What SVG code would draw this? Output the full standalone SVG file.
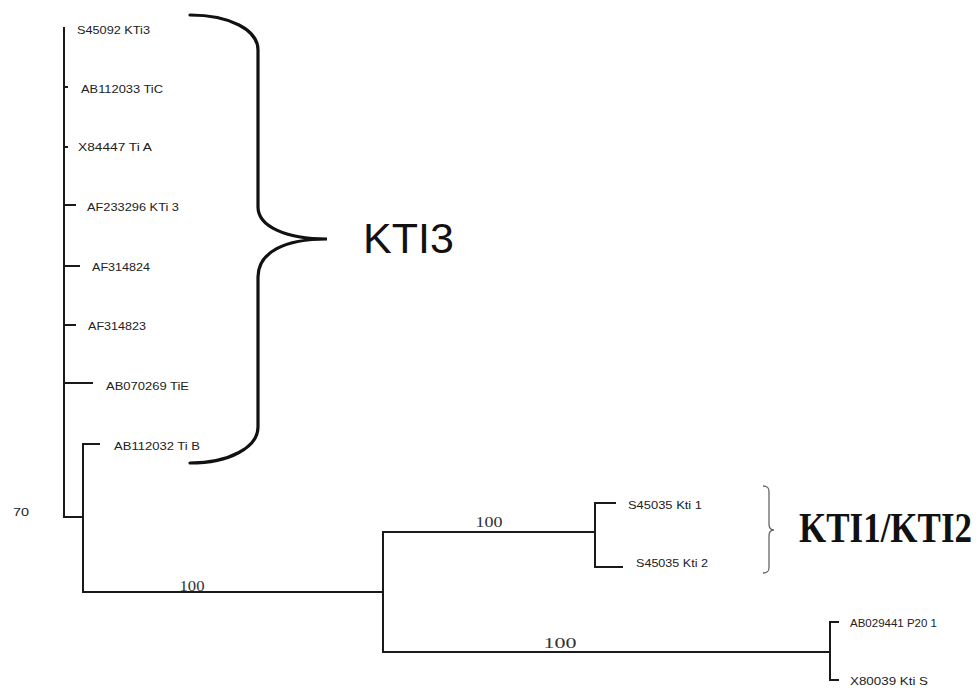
<svg xmlns="http://www.w3.org/2000/svg" width="979" height="690" viewBox="0 0 979 690">
<style>
.br{fill:none;stroke:#1a1a1a;stroke-width:2;stroke-linecap:square}
.lbl{font-family:"Liberation Sans",Arial,sans-serif;font-size:11px;fill:#222}
.bs{font-family:"Liberation Serif","Times New Roman",serif;font-size:14px;fill:#333}
.brace{fill:none;stroke:#111;stroke-width:3.2;stroke-linecap:round}
.brace2{fill:none;stroke:#666;stroke-width:1.3}
</style>
<rect width="979" height="690" fill="#fff"/>
<g id="connectors">
<path class="br" d="M64,28 V517 H83 M64,87 H67 M64,147 H67 M64,205 H75 M64,266 H79 M64,325 H75 M64,383 H92"/>
<path class="br" d="M99,444 H83 V592 H383 M383,532 V652"/>
<path class="br" d="M383,532 H595 M615,503 H595 V567 H622"/>
<path class="br" d="M383,652 H830 M838,622 H830 V680 H838"/>
</g>
<g id="bootstrap">
<text class="bs" x="192" y="591" text-anchor="middle" textLength="25" lengthAdjust="spacingAndGlyphs">100</text>
<text class="bs" x="489" y="527" text-anchor="middle" textLength="27" lengthAdjust="spacingAndGlyphs">100</text>
<text class="bs" x="560" y="648" text-anchor="middle" textLength="33" lengthAdjust="spacingAndGlyphs">100</text>
<text class="lbl" x="13" y="516" textLength="16" lengthAdjust="spacingAndGlyphs" style="font-size:11.5px">70</text>
</g>
<g id="n1"><text class="lbl" x="77" y="34" textLength="73" lengthAdjust="spacingAndGlyphs">S45092 KTi3</text></g>
<g id="n2"><text class="lbl" x="81" y="93" textLength="82" lengthAdjust="spacingAndGlyphs">AB112033 TiC</text></g>
<g id="n3"><text class="lbl" x="78" y="151" textLength="74" lengthAdjust="spacingAndGlyphs">X84447 Ti A</text></g>
<g id="n4"><text class="lbl" x="87" y="211" textLength="92" lengthAdjust="spacingAndGlyphs">AF233296 KTi 3</text></g>
<g id="n5"><text class="lbl" x="92" y="271" textLength="58" lengthAdjust="spacingAndGlyphs">AF314824</text></g>
<g id="n6"><text class="lbl" x="88" y="330" textLength="58" lengthAdjust="spacingAndGlyphs">AF314823</text></g>
<g id="n7"><text class="lbl" x="106" y="390" textLength="83" lengthAdjust="spacingAndGlyphs">AB070269 TiE</text></g>
<g id="n8"><text class="lbl" x="114" y="450" textLength="86" lengthAdjust="spacingAndGlyphs">AB112032 Ti B</text></g>
<g id="n9"><text class="lbl" x="628" y="509" textLength="74" lengthAdjust="spacingAndGlyphs">S45035 Kti 1</text></g>
<g id="n10"><text class="lbl" x="636" y="567" textLength="72" lengthAdjust="spacingAndGlyphs">S45035 Kti 2</text></g>
<g id="n11"><text class="lbl" x="850" y="627" textLength="87" lengthAdjust="spacingAndGlyphs">AB029441 P20 1</text></g>
<g id="n12"><text class="lbl" x="850" y="685" textLength="78" lengthAdjust="spacingAndGlyphs">X80039 Kti S</text></g>
<g id="kti3">
<path class="brace" d="M190,15 C230,15 258,30 258,50 L258,207 C258,226 285,239 327,239 C285,239 258,252 258,277 L258,427 C258,447 230,463 190,463"/>
<text x="363" y="253" style="font-family:'Liberation Sans',Arial,sans-serif;font-size:43px;fill:#111">KTI3</text>
</g>
<g id="kti12">
<path class="brace2" d="M763,486 C768,486 769,488 769,492 L769,524 C769,528 771,530 774,530 C771,530 769,532 769,536 L769,567 C769,571 768,573 763,573"/>
<text transform="translate(799,542) scale(1,1.2)" x="0" y="0" style="font-family:'Liberation Serif','Times New Roman',serif;font-size:35px;font-weight:bold;fill:#111">KTI1/KTI2</text>
</g>
</svg>
